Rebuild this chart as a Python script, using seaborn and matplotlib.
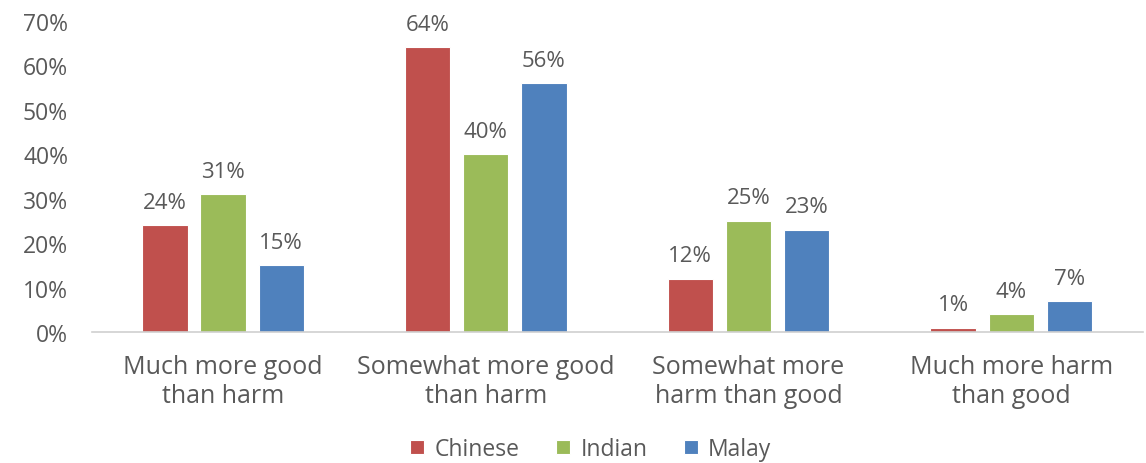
import matplotlib
matplotlib.use("Agg")
import matplotlib.pyplot as plt
import seaborn as sns
import pandas as pd

categories = ["Much more good\nthan harm", "Somewhat more good\nthan harm",
              "Somewhat more\nharm than good", "Much more harm\nthan good"]
groups = ["Chinese", "Indian", "Malay"]
chinese = [24, 64, 12, 1]
indian = [31, 40, 25, 4]
malay = [15, 56, 23, 7]
y_ticks = [0, 10, 20, 30, 40, 50, 60, 70]
colors = ["#C0504D", "#9BBB59", "#4F81BD"]

rows = []
for g, vals in zip(groups, [chinese, indian, malay]):
    for c, v in zip(categories, vals):
        rows.append({"category": c, "group": g, "value": v})
df = pd.DataFrame(rows)

sns.set_theme(style="white")
plt.rcParams["font.family"] = ["Open Sans", "DejaVu Sans"]
text_color = "#595959"

fig = plt.figure(figsize=(11.46, 4.64), dpi=100)
ax = fig.add_axes([0.080, 0.282, 0.917, 0.671])

sns.barplot(data=df, x="category", y="value", hue="group", order=categories,
            hue_order=groups, palette=colors, width=0.664, gap=0.22,
            ax=ax, errorbar=None, saturation=1, linewidth=0.8,
            edgecolor="white")

for container in ax.containers:
    labels = [f"{v:.0f}%" for v in container.datavalues]
    ax.bar_label(container, labels=labels, padding=9, fontsize=16,
                 color=text_color)

ax.set_ylim(0, 70)
ax.set_yticks(y_ticks)
ax.set_yticklabels([f"{t}%" for t in y_ticks], fontsize=16.5, color=text_color)
ax.tick_params(axis="y", length=0, pad=17)
ax.tick_params(axis="x", length=0, pad=16, labelsize=18, labelcolor=text_color)
ax.set_xlabel("")
ax.set_ylabel("")
ax.set_xlim(-0.5, 3.5)

for side in ["top", "right", "left"]:
    ax.spines[side].set_visible(False)
ax.spines["bottom"].set_color("#D0D0D0")
ax.spines["bottom"].set_linewidth(1.2)

leg = ax.legend(loc="center", bbox_to_anchor=(0.475, -0.376), ncol=3,
                frameon=False, fontsize=16.5, handlelength=0.6, handleheight=0.6,
                handletextpad=0.45, columnspacing=1.6, borderpad=0)
for t in leg.get_texts():
    t.set_color(text_color)

fig.savefig("out.png", dpi=100, facecolor="white")
